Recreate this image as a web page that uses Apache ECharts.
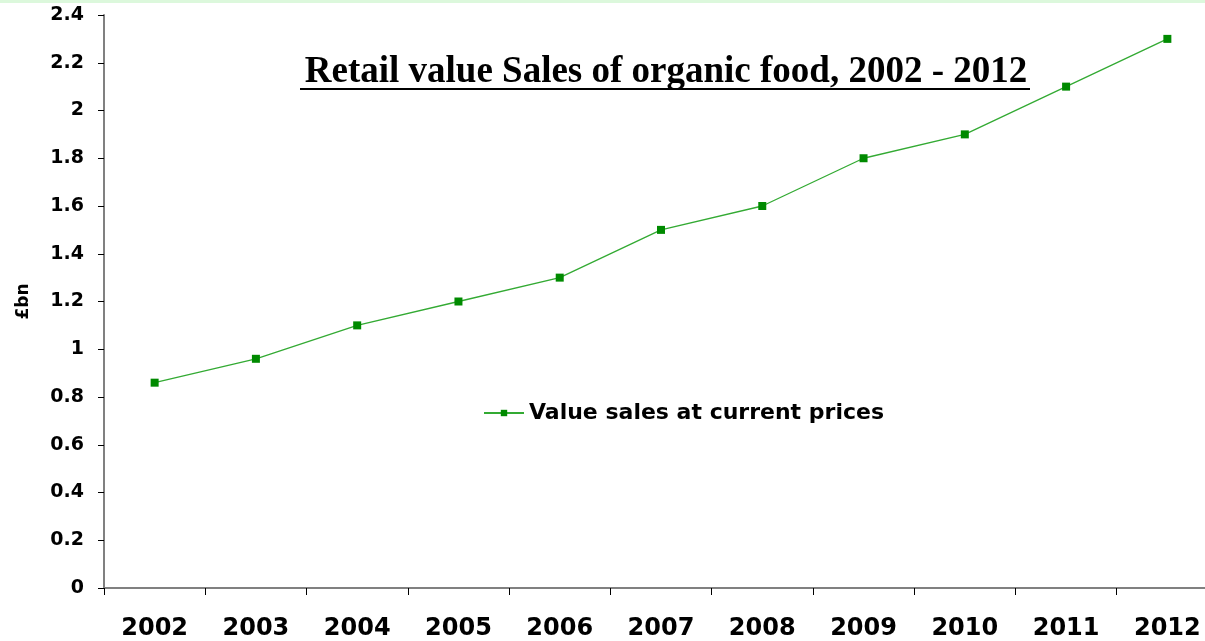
<!DOCTYPE html>
<html>
<head>
<meta charset="utf-8">
<script src="https://cdn.jsdelivr.net/npm/echarts@6/dist/echarts.min.js"></script>
<style>
  html, body { margin: 0; padding: 0; background: #fff; overflow: hidden; }
  /* the plot runs a little past the right edge of the picture */
  #chart { width: 1218px; height: 641px; }
  .topline { position: absolute; left: 0; top: 0; width: 1218px; height: 3px; background: #dcf8dc; z-index: 5; }
</style>
</head>
<body>
<div class="topline"></div>
<div id="chart"></div>
<script>
// data
const years = ['2002', '2003', '2004', '2005', '2006', '2007', '2008', '2009', '2010', '2011', '2012'];
const valueSales = [0.86, 0.96, 1.10, 1.20, 1.30, 1.50, 1.60, 1.80, 1.90, 2.10, 2.30];
const seriesName = 'Value sales at current prices';
const chartTitle = 'Retail value Sales of organic food, 2002 - 2012';

const chart = echarts.init(document.getElementById('chart'));

const sans = '"DejaVu Sans", Verdana, sans-serif';

const option = {
  animation: false,
  title: {
    text: chartTitle,
    left: 661,
    textAlign: 'center',
    top: 49,
    textStyle: {
      fontFamily: '"Liberation Serif", "Times New Roman", serif',
      fontWeight: 'bold',
      fontSize: 37,
      color: '#000'
    }
  },
  graphic: [{
    type: 'line',
    shape: { x1: 300, y1: 89, x2: 1030, y2: 89 },
    style: { stroke: '#000', lineWidth: 2 }
  }],
  legend: {
    left: 478,
    top: 397,
    itemWidth: 40,
    itemHeight: 8,
    itemGap: 4,
    data: [seriesName],
    textStyle: { fontFamily: sans, fontWeight: 'bold', fontSize: 22, color: '#000' }
  },
  grid: { left: 104, right: 0, top: 15, bottom: 50 },
  xAxis: {
    type: 'category',
    data: years,
    boundaryGap: true,
    axisLine: { lineStyle: { color: '#808080', width: 2 } },
    axisTick: { show: true, length: 7, lineStyle: { color: '#000' } },
    axisLabel: { margin: 29, fontFamily: sans, fontWeight: 'bold', fontSize: 24, color: '#000' }
  },
  yAxis: {
    type: 'value',
    min: 0,
    max: 2.4,
    interval: 0.2,
    name: '£bn',
    nameLocation: 'middle',
    nameGap: 72,
    nameRotate: 90,
    nameTextStyle: { fontFamily: sans, fontWeight: 'bold', fontSize: 17, color: '#000' },
    axisLine: { show: true, lineStyle: { color: '#808080', width: 2 } },
    axisTick: { show: true, length: 6, lineStyle: { color: '#000' } },
    splitLine: { show: false },
    axisLabel: {
      margin: 20,
      fontFamily: sans,
      fontWeight: 'bold',
      fontSize: 19,
      color: '#000',
      formatter: v => String(Math.round(v * 10) / 10)
    }
  },
  series: [{
    name: seriesName,
    type: 'line',
    data: valueSales,
    symbol: 'rect',
    symbolSize: 8,
    itemStyle: { color: '#008a00' },
    lineStyle: { color: '#33aa33', width: 1.3 }
  }]
};

chart.setOption(option);
</script>
</body>
</html>
